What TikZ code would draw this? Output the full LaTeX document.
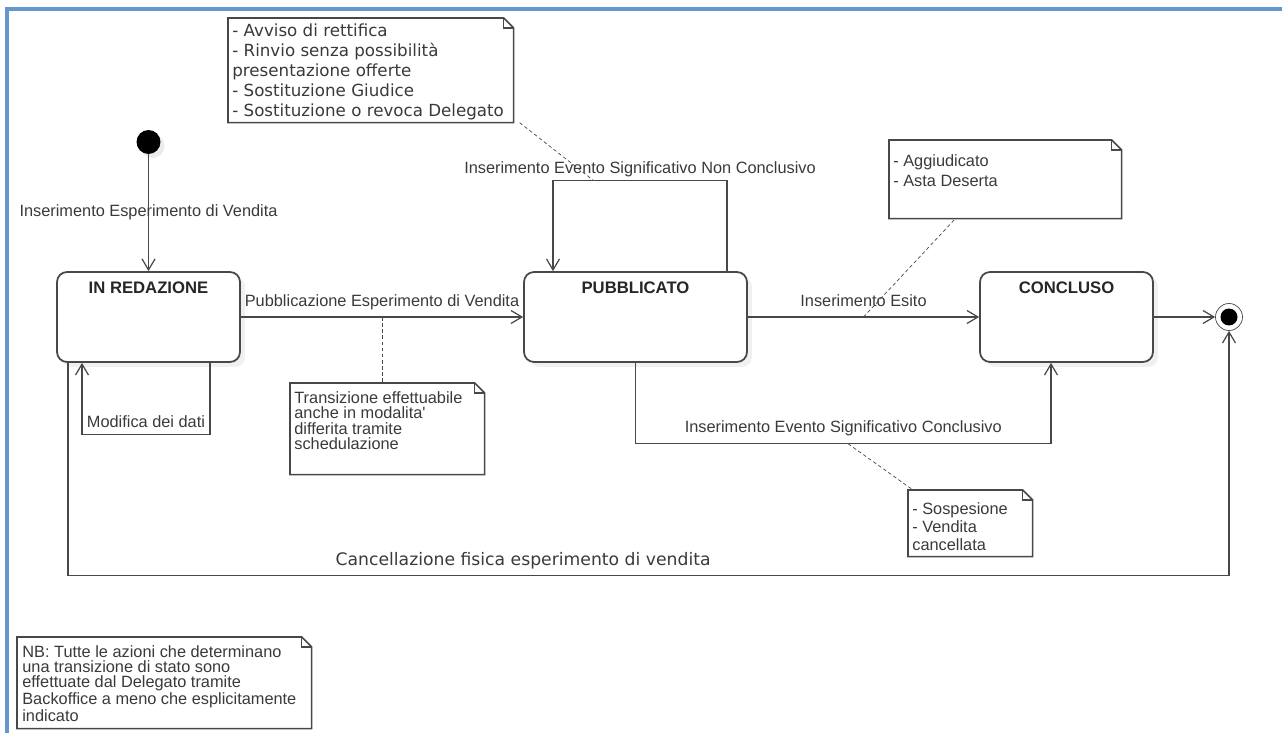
\documentclass[tikz,border=0pt]{standalone}
\usepackage{fontspec}
\setmainfont{Liberation Sans}
\newfontfamily\verdfont{DejaVu Sans}
\usetikzlibrary{arrows.meta,shadows}

\definecolor{framebl}{RGB}{101,151,206}
\definecolor{inkgray}{RGB}{72,72,72}
\definecolor{txtgray}{RGB}{58,58,58}

\tikzset{
  state/.style={draw=inkgray, line width=1pt, rounded corners=0.2cm, fill=white,
    minimum height=1.8cm, inner ysep=0.18cm, text height=0.24cm, text depth=1.2cm,
    text=black!85, font=\bfseries\fontsize{9.5}{11}\selectfont,
    drop shadow={shadow xshift=0.1cm, shadow yshift=-0.1cm, fill=black!6, opacity=1}},
  initst/.style={circle, fill=black, minimum size=0.48cm, inner sep=0pt,
    drop shadow={shadow xshift=0.08cm, shadow yshift=-0.08cm, fill=black!8, opacity=1}},
  finst/.style={circle, draw=inkgray, fill=white, minimum size=0.54cm, inner sep=0pt,
    path picture={\fill[black] (path picture bounding box.center) circle (0.17cm);}},
  tr/.style={draw=inkgray, line width=0.7pt, -{Straight Barb[length=0.22cm,width=0.26cm]}},
  lbl/.style={anchor=base, yshift=#1, inner sep=0pt, text=txtgray, font=\fontsize{9.3}{11}\selectfont},
  lbl/.default=0.22cm,
  link/.style={draw=inkgray, thin, dash pattern=on 2pt off 1.5pt},
  notebox/.style={anchor=north west, inner sep=0pt},
  notetext/.style={anchor=north west, align=left, inner sep=0pt, text=txtgray},
  noteline/.style={draw=inkgray, line width=0.9pt, fill=white},
}

% nota con angolo piegato
\newcommand{\dogear}[1]{%
  \draw[noteline] (#1.south west) -- (#1.north west) -- ([xshift=-0.2cm]#1.north east)
    -- ([yshift=-0.2cm]#1.north east) -- (#1.south east) -- cycle;
  \draw[noteline, fill=none] ([xshift=-0.2cm]#1.north east) |- ([yshift=-0.2cm]#1.north east);}

\begin{document}
\begin{tikzpicture}[x=0.02cm, y=-0.02cm]
    \useasboundingbox (0,0) rectangle (1282,733);
    % Cornice
    \draw[framebl, line width=0.07cm] (7,733) -- (7,9) -- (1282,9);

    % Stati
    \node[initst] (init) at (148.5,142) {};
    \node[state, minimum width=3.66cm] (red) at (148.5,317) {IN REDAZIONE};
    \node[state, minimum width=4.46cm] (pub) at (635.5,317) {PUBBLICATO};
    \node[state, minimum width=3.46cm] (con) at (1066.5,317) {CONCLUSO};
    \node[finst] (fin) at (1229,317) {};

    % Transizioni
    \draw[tr] (init) -- node[lbl=0cm, anchor=center] {Inserimento Esperimento di Vendita} (red);
    \draw[tr] (red) -- node[lbl] {Pubblicazione Esperimento di Vendita} coordinate[midway] (pq) (pub);
    \draw[tr] (red.south -| 210,0) -- ++(0,72) -| node[lbl=0.14cm, pos=0.25] {Modifica dei dati} (red.south -| 82,0);
    \draw[tr] (pub.north -| 727,0) -- ++(0,-91) -| node[lbl=0.14cm, pos=0.25] {Inserimento Evento Significativo Non Conclusivo}
        coordinate[pos=0.385] (pn) (pub.north -| 553,0);
    \draw[tr] (pub) -- node[lbl] {Inserimento Esito} coordinate[midway] (pc) (con);
    \draw[tr] (con) -- (fin);
    \draw[tr] (pub.south) -- ++(0,81) -| node[lbl, pos=0.25] {Inserimento Evento Significativo Conclusivo}
        coordinate[pos=0.256] (pk) (con.south -| 1051,0);
    \draw[tr] (red.south -| 68,0) -- ++(0,213) -| node[lbl=0.2cm, pos=0.196, font=\verdfont\fontsize{9.8}{12}\selectfont]
        {Cancellazione fisica esperimento di vendita} (fin);

    % Note
    \node[notebox, minimum width=5.7cm, minimum height=2.08cm] (nota1) at (228,18) {};
    \dogear{nota1}
    \node[notetext, font=\verdfont\fontsize{9.5}{11.4}\selectfont] (nota1t) at ([xshift=0.08cm, yshift=-0.1cm]nota1.north west)
        {- Avviso di rettifica\\- Rinvio senza possibilità\\presentazione offerte\\- Sostituzione Giudice\\- Sostituzione o revoca Delegato};

    \node[notebox, minimum width=3.88cm, minimum height=1.82cm] (nota2) at (290,383) {};
    \dogear{nota2}
    \node[notetext, font=\fontsize{9.3}{8.8}\selectfont] (nota2t) at ([xshift=0.08cm, yshift=-0.16cm]nota2.north west)
        {Transizione effettuabile\\anche in modalita\textquotesingle\\differita tramite\\schedulazione};

    \node[notebox, minimum width=4.64cm, minimum height=1.56cm] (nota3) at (889,140) {};
    \dogear{nota3}
    \node[notetext, font=\fontsize{9.3}{11.4}\selectfont] (nota3t) at ([xshift=0.08cm, yshift=-0.28cm]nota3.north west)
        {- Aggiudicato\\- Asta Deserta};

    \node[notebox, minimum width=2.48cm, minimum height=1.32cm] (nota4) at (908,490) {};
    \dogear{nota4}
    \node[notetext, font=\fontsize{9.3}{10.2}\selectfont] (nota4t) at ([xshift=0.08cm, yshift=-0.24cm]nota4.north west)
        {- Sospesione\\- Vendita\\cancellata};

    \node[notebox, minimum width=5.88cm, minimum height=1.82cm] (nota5) at (17,637) {};
    \dogear{nota5}
    \node[notetext, font=\fontsize{9.3}{8.6}\selectfont] (nota5t) at ([xshift=0.1cm, yshift=-0.16cm]nota5.north west)
        {NB: Tutte le azioni che determinano\\una transizione di stato sono\\effettuate dal Delegato tramite\\Backoffice a meno che esplicitamente\\indicato};

    % Collegamenti alle note
    \draw[link] ([xshift=0.12cm]nota1.south east) -- (pn);
    \draw[link] (pq) -- (pq |- nota2.north);
    \draw[link] (pc) -- ([xshift=-1cm]nota3.south);
    \draw[link] (pk) -- ([xshift=0.1cm]nota4.north west);
\end{tikzpicture}
\end{document}
